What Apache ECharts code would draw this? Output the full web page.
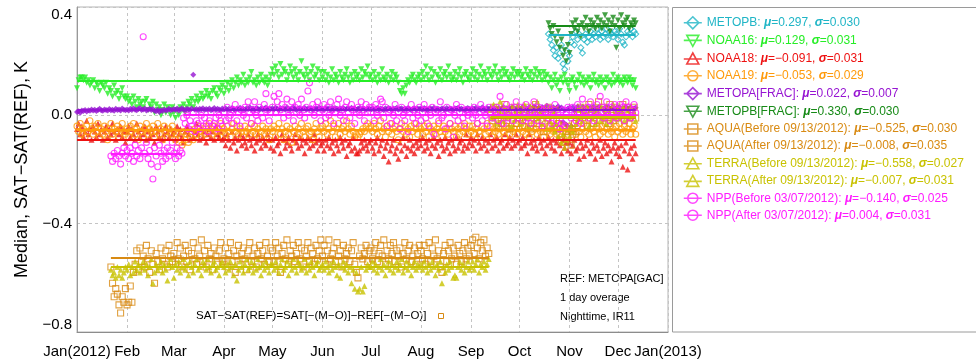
<!DOCTYPE html>
<html>
<head>
<meta charset="utf-8">
<script src="https://cdn.jsdelivr.net/npm/echarts@6/dist/echarts.min.js"></script>
<style>
  html, body { margin: 0; background: #fff; }
  #chart { width: 976px; height: 362px; }
</style>
</head>
<body>
<div id="chart"></div>
<script>
// month tick labels (Jan gets the year appended)
const monthLabels = ["Jan", "Feb", "Mar", "Apr", "May", "Jun", "Jul", "Aug", "Sep", "Oct", "Nov", "Dec"];
const yTicks = [-0.8, -0.4, 0.0, 0.4];

// series names, legend stats and first day (day 0 = 2012-01-01)
const names = [
  "METOPB", "NOAA16", "NOAA18", "NOAA19", "METOPA[FRAC]", "METOPB[FRAC]",
  "AQUA(Before 09/13/2012)", "AQUA(After 09/13/2012)",
  "TERRA(Before 09/13/2012)", "TERRA(After 09/13/2012)",
  "NPP(Before 03/07/2012)", "NPP(After 03/07/2012)"
];
const mus    = [0.297, 0.129, -0.091, -0.053, 0.022, 0.330, -0.525, -0.008, -0.558, -0.007, -0.140, 0.004];
const sigmas = [0.030, 0.031, 0.031, 0.029, 0.007, 0.030, 0.030, 0.035, 0.027, 0.031, 0.025, 0.031];
const startDays = [292, 0, 0, 0, 0, 292, 21, 256, 21, 256, 21, 66];

// daily medians, one row per month
const metopb = [
  .30,.28,.26,.24,.22,.25,.21,.23,.26,.19, .17,.24,.20,.22,.27,.29,.26,.31,.28,.30,
  .25,.23,.28,.30,.27,.29,.31,.28,.30,.29, .32,.30,.28,.31,.29,.30,.32,.28,.31,.30,
  .29,.31,.30,.28,.32,.30,.27,.26,.29,.31, .30,.32,.29,.31,.30
];
const noaa16 = [
  .10,.13,.14,.14,.13,.14,.12,.13,.11,.12, .13,.10,.12,.11,.09,.12,.11,.10,.12,.08, .10,.09,.07,.11,.08,.09,.06,.08,.10,.07, .06,
  .07,.05,.06,.04,.07,.05,.03,.06,.04,.05, .03,.05,.06,.02,.04,.03,.05,.01,.04,.02, .03,.00,.02,.04,.01,.03,.02,.00,.03,
  .01,-.01,.02,.00,.03,.02,.04,.01,.03,.05, .04,.06,.03,.05,.07,.05,.06,.08,.06,.07, .09,.07,.08,.06,.09,.10,.08,.07,.10,.09, .11,
  .08,.10,.12,.09,.11,.13,.10,.12,.14,.11, .13,.12,.15,.11,.13,.12,.14,.16,.12,.13, .11,.14,.12,.15,.13,.12,.14,.11,.13,.15,
  .17,.15,.18,.16,.14,.19,.15,.17,.16,.13, .15,.18,.16,.14,.17,.15,.13,.16,.20,.15, .14,.17,.15,.13,.16,.18,.14,.15,.17,.13, .16,
  .14,.16,.13,.15,.12,.14,.17,.13,.15,.14, .12,.16,.14,.13,.15,.17,.14,.12,.15,.13, .16,.14,.15,.13,.17,.14,.16,.15,.18,.14,
  .15,.13,.16,.14,.12,.15,.13,.17,.14,.13, .15,.12,.14,.16,.13,.15,.14,.12,.09,.08, .10,.08,.11,.13,.12,.14,.15,.13,.12,.14, .15,
  .13,.16,.14,.18,.15,.13,.17,.14,.16,.12, .15,.14,.17,.13,.15,.16,.14,.18,.15,.13, .14,.16,.13,.15,.17,.14,.12,.15,.16,.14, .13,
  .15,.17,.14,.16,.13,.15,.18,.14,.16,.15, .13,.17,.15,.14,.16,.18,.15,.13,.16,.14, .17,.15,.16,.14,.13,.15,.17,.14,.16,.15,
  .16,.14,.15,.13,.17,.15,.14,.16,.13,.15, .17,.14,.16,.15,.13,.16,.14,.15,.12,.14, .10,.13,.15,.11,.13,.09,.14,.12,.15,.13, .11,
  .09,.13,.14,.12,.10,.13,.15,.12,.14,.11, .13,.12,.14,.10,.13,.15,.12,.13,.11,.14, .12,.13,.10,.14,.12,.13,.11,.15,.12,.13,
  .14,.12,.13,.11,.14,.13,.12,.14,.13,.11, .13,.10
];
const noaa18 = [
  -.05,-.03,-.07,-.04,-.08,-.06,-.02,-.07,-.05,-.09, -.04,-.06,-.08,-.03,-.07,-.05,-.09,-.06,-.04,-.08, -.05,-.07,-.03,-.06,-.09,-.05,-.07,-.04,-.08,-.06, -.10,
  -.06,-.04,-.08,-.05,-.07,-.09,-.03,-.06,-.08,-.05, -.07,-.04,-.09,-.06,-.08,-.05,-.07,-.10,-.04,-.06, -.08,-.05,-.09,-.07,-.04,-.06,-.08,-.05,-.07,
  -.06,-.09,-.04,-.07,-.05,-.08,-.10,-.06,-.04,-.07, -.09,-.05,-.08,-.06,-.03,-.07,-.09,-.05,-.08,-.06, -.10,-.07,-.05,-.08,-.06,-.09,-.04,-.07,-.08,-.06, -.09,
  -.08,-.11,-.07,-.09,-.12,-.06,-.10,-.08,-.13,-.09, -.07,-.11,-.08,-.10,-.12,-.07,-.09,-.11,-.08,-.13, -.10,-.07,-.09,-.12,-.08,-.10,-.11,-.07,-.09,-.12,
  -.09,-.13,-.08,-.11,-.10,-.14,-.07,-.09,-.12,-.10, -.08,-.11,-.13,-.09,-.07,-.10,-.12,-.08,-.11,-.09, -.14,-.10,-.08,-.12,-.09,-.11,-.07,-.10,-.13,-.09, -.11,
  -.10,-.13,-.09,-.11,-.08,-.12,-.10,-.14,-.09,-.11, -.13,-.08,-.10,-.12,-.09,-.15,-.11,-.10,-.13,-.08, -.12,-.14,-.14,-.13,-.10,-.12,-.09,-.11,-.13,-.10,
  -.09,-.12,-.14,-.10,-.08,-.13,-.11,-.09,-.15,-.12, -.10,-.17,-.13,-.11,-.09,-.14,-.12,-.16,-.10,-.13, -.08,-.11,-.15,-.12,-.09,-.13,-.11,-.14,-.10,-.12, -.09,
  -.11,-.08,-.13,-.10,-.12,-.09,-.14,-.11,-.08,-.12, -.10,-.15,-.09,-.11,-.13,-.08,-.12,-.10,-.14,-.09, -.11,-.13,-.08,-.12,-.10,-.09,-.13,-.11,-.07,-.12, -.10,
  -.08,-.11,-.09,-.13,-.07,-.10,-.12,-.08,-.11,-.09, -.13,-.10,-.07,-.12,-.09,-.11,-.08,-.13,-.10,-.09, -.12,-.07,-.11,-.10,-.08,-.12,-.09,-.11,-.07,-.10,
  -.09,-.12,-.08,-.11,-.10,-.14,-.07,-.10,-.12,-.09, -.11,-.13,-.08,-.10,-.12,-.09,-.14,-.11,-.08,-.10, -.12,-.09,-.13,-.10,-.08,-.11,-.14,-.09,-.12,-.10, -.13,
  -.10,-.14,-.11,-.09,-.13,-.12,-.16,-.10,-.12,-.15, -.11,-.09,-.13,-.14,-.10,-.12,-.16,-.11,-.13,-.09, -.15,-.12,-.10,-.14,-.11,-.13,-.17,-.12,-.10,-.14,
  -.12,-.15,-.11,-.19,-.13,-.10,-.20,-.14,-.12,-.16, -.11,-.14
];
const noaa19 = [
  -.04,-.06,-.03,-.07,-.05,-.08,-.04,-.06,-.02,-.05, -.07,-.04,-.06,-.03,-.08,-.05,-.07,-.04,-.06,-.09, -.05,-.03,-.07,-.05,-.06,-.04,-.08,-.05,-.03,-.06, -.07,
  -.05,-.08,-.04,-.06,-.03,-.07,-.05,-.09,-.04,-.06, -.08,-.05,-.03,-.07,-.05,-.06,-.04,-.08,-.06,-.03, -.07,-.05,-.09,-.04,-.06,-.08,-.05,-.07,-.04,
  -.06,-.09,-.07,-.10,-.08,-.11,-.06,-.09,-.07,-.10, -.08,-.06,-.09,-.05,-.07,-.04,-.06,-.08,-.05,-.07, -.04,-.06,-.03,-.05,-.07,-.04,-.06,-.08,-.05,-.03, -.06,
  -.05,-.07,-.04,-.06,-.08,-.05,-.03,-.06,-.04,-.07, -.05,-.06,-.08,-.04,-.06,-.05,-.07,-.03,-.06,-.04, -.07,-.05,-.08,-.06,-.04,-.07,-.05,-.06,-.09,-.05,
  -.06,-.04,-.08,-.05,-.03,-.07,-.05,-.09,-.06,-.04, -.07,-.05,-.10,-.06,-.04,-.08,-.05,-.07,-.03,-.06, -.08,-.05,-.04,-.07,-.06,-.09,-.05,-.03,-.06,-.08, -.05,
  -.04,-.06,-.03,-.07,-.05,-.02,-.06,-.04,-.08,-.05, -.03,-.07,-.05,-.04,-.06,-.02,-.05,-.07,-.04,-.06, -.08,-.07,-.08,-.07,-.06,-.05,-.06,-.04,-.03,-.05,
  -.04,-.06,-.03,-.05,-.07,-.04,-.02,-.06,-.05,-.08, -.04,-.06,-.03,-.07,-.05,-.04,-.06,-.09,-.05,-.03, -.06,-.04,-.07,-.05,-.08,-.04,-.06,-.03,-.05,-.07, -.04,
  -.05,-.07,-.04,-.06,-.03,-.08,-.05,-.06,-.04,-.07, -.05,-.03,-.06,-.08,-.04,-.06,-.05,-.07,-.03,-.05, -.06,-.04,-.08,-.05,-.07,-.04,-.06,-.03,-.05,-.07, -.04,
  -.06,-.04,-.07,-.05,-.03,-.06,-.08,-.04,-.05,-.07, -.03,-.06,-.04,-.08,-.05,-.06,-.04,-.07,-.05,-.03, -.06,-.08,-.04,-.05,-.07,-.04,-.06,-.05,-.03,-.07,
  -.05,-.03,-.06,-.04,-.07,-.05,-.08,-.04,-.06,-.03, -.05,-.07,-.04,-.06,-.05,-.08,-.03,-.06,-.04,-.07, -.05,-.06,-.04,-.07,-.03,-.05,-.08,-.06,-.04,-.05, -.07,
  -.04,-.06,-.05,-.03,-.07,-.04,-.06,-.08,-.05,-.03, -.06,-.04,-.07,-.05,-.03,-.06,-.08,-.04,-.05,-.07, -.04,-.06,-.03,-.05,-.07,-.04,-.06,-.05,-.08,-.04,
  -.06,-.03,-.05,-.07,-.04,-.06,-.05,-.03,-.07,-.05, -.04,-.07
];
const metopaFrac = [
  .012,.015,.010,.018,.016,.020,.014,.019,.017,.022, .018,.021,.016,.020,.024,.019,.017,.022,.020,.018, .023,.019,.021,.017,.024,.020,.022,.018,.025,.021, .019,
  .022,.018,.024,.020,.026,.021,.019,.023,.027,.020, .022,.025,.018,.021,.024,.020,.023,.017,.015,.021, .012,.019,.016,.022,.018,.020,.024,.019,.021,
  .023,.020,.025,.018,.022,.026,.021,.019,.024,.022, .020,.025,.150,.021,.023,.019,.024,.022,.026,.020, .023,.021,.025,.019,.022,.027,.020,.024,.022,.018, .025,
  .022,.026,.020,.024,.021,.027,.023,.019,.025,.022, .028,.021,.024,.020,.026,.023,.030,.022,.025,.021, .027,.024,.020,.026,.022,.025,.029,.021,.024,.023,
  .026,.022,.028,.024,.020,.027,.023,.025,.021,.029, .024,.022,.026,.030,.023,.020,.025,.027,.022,.024, .028,.021,.025,.023,.027,.020,.024,.026,.022,.029, .023,
  .024,.021,.027,.023,.025,.020,.028,.022,.026,.024, .019,.025,.023,.027,.021,.024,.026,.022,.028,.023, .025,.020,.024,.027,.022,.026,.023,.021,.025,.024,
  .022,.026,.020,.024,.028,.021,.025,.023,.019,.026, .022,.027,.024,.020,.025,.023,.028,.021,.024,.026, .020,.025,.022,.027,.023,.019,.024,.026,.021,.025, .023,
  .025,.021,.027,.023,.019,.024,.026,.022,.028,.020, .025,.023,.021,.026,.024,.019,.027,.022,.025,.023, .020,.026,.024,.028,.021,.025,.022,.019,.024,.027, .023,
  .021,.026,.023,.028,.020,.025,.022,.030,.024,.019, .027,.023,.026,.021,.029,.024,.022,.027,.020,.025, .031,.023,.026,.021,.028,.024,.030,.022,.025,.027,
  .026,.021,.032,.024,.028,.019,.030,.025,.022,.033, .027,.023,.029,.020,.031,.026,.024,.035,.022,.028, .025,.030,.021,.027,.034,.023,.029,-.025,.020,-.035, .025,
  .028,-.040,.030,.018,.022,.033,.026,.019,.031,.027, .024,.031,.021,.028,.025,.033,.022,.027,.030,.024, .026,.021,.029,.025,.032,.023,.027,.030,.024,.028,
  .026,.030,.023,.028,.025,.031,.022,.027,.029,.024, .026,.028
];
const metopbFrac = [
  .34,.32,.30,.33,.29,.27,.31,.25,.28,.22, .24,.20,.26,.23,.30,.34,.32,.35,.31,.33,
  .29,.34,.32,.36,.33,.31,.35,.33,.34,.32, .36,.33,.35,.32,.34,.37,.33,.35,.31,.34,
  .36,.33,.25,.35,.32,.37,.34,.33,.35,.36, .32,.34,.33,.35,.34
];
const aquaBefore = [
  -.56,-.62,-.67,-.64,-.66,-.70,-.73,-.67,-.69,-.64,
  -.70,-.69,-.63,-.69,-.58,-.55,-.50,-.57,-.49,-.54,
  -.52,-.56,-.48,-.53,-.58,-.50,-.55,-.62,-.51,-.54,
  -.57,-.49,-.53,-.55,-.50,-.56,-.48,-.52,-.54,
  -.51,-.55,-.47,-.53,-.49,-.56,-.52,-.48,-.54,-.50, -.57,-.51,-.47,-.53,-.55,-.49,-.52,-.46,-.54,-.50, -.56,-.48,-.53,-.51,-.57,-.49,-.52,-.55,-.50,-.47, -.54,
  -.53,-.49,-.56,-.51,-.47,-.54,-.50,-.58,-.52,-.48, -.55,-.51,-.49,-.53,-.57,-.50,-.47,-.54,-.52,-.49, -.56,-.51,-.48,-.53,-.50,-.55,-.47,-.52,-.54,-.49,
  -.50,-.54,-.47,-.52,-.49,-.58,-.51,-.48,-.53,-.46, -.55,-.50,-.52,-.48,-.54,-.51,-.47,-.53,-.49,-.56, -.50,-.52,-.47,-.54,-.49,-.51,-.55,-.48,-.53,-.50, -.46,
  -.52,-.48,-.55,-.50,-.46,-.53,-.51,-.49,-.54,-.47, -.52,-.50,-.56,-.48,-.53,-.51,-.49,-.54,-.50,-.47, -.55,-.58,-.60,-.52,-.49,-.53,-.51,-.48,-.54,-.50,
  -.49,-.53,-.50,-.47,-.54,-.51,-.48,-.52,-.46,-.55, -.50,-.53,-.48,-.51,-.47,-.54,-.50,-.52,-.49,-.56, -.51,-.47,-.53,-.50,-.48,-.54,-.52,-.49,-.55,-.51, -.48,
  -.50,-.53,-.48,-.55,-.51,-.47,-.54,-.49,-.52,-.46, -.53,-.50,-.56,-.58,-.51,-.48,-.54,-.50,-.47,-.53, -.49,-.52,-.55,-.48,-.51,-.54,-.50,-.47,-.53,-.49, -.52,
  -.48,-.46,-.51,-.45,-.49,-.53,-.47,-.50,-.46,-.52, -.49,-.51
];
const aquaAfter = [
  .01,-.02,.03,-.01,.00,-.04,.02,-.03,.01,.04, -.02,.00,-.05,.02,-.01,.03,-.03,.00,
  -.01,.02,-.04,.01,-.02,.03,.00,-.05,.02,-.01, .04,-.03,.00,.02,-.02,-.06,.01,-.01,.03,-.04, .00,-.02,.02,-.05,-.03,-.07,-.09,-.04,-.10,-.06, -.08,
  -.05,-.11,-.07,-.03,-.06,.01,-.02,.03,-.01,.00, .02,-.04,.04,-.01,.01,-.03,.02,.00,.05,-.02, .01,.03,-.01,.02,-.03,.04,.00,-.02,.03,.01,
  -.01,.02,.00,.04,-.02,.01,.03,-.01,.02,.00, .03,-.01
];
const terraBefore = [
  -.57,-.59,-.58,-.60,-.56,-.59,-.57,-.60,-.58,-.56,
  -.57,-.55,-.59,-.56,-.58,-.54,-.57,-.55,-.58,-.56,
  -.54,-.57,-.55,-.59,-.56,-.53,-.62,-.58,-.55,-.57,
  -.56,-.54,-.58,-.55,-.57,-.61,-.55,-.53,-.56,
  -.60,-.55,-.57,-.54,-.58,-.56,-.53,-.57,-.55,-.59, -.54,-.56,-.58,-.55,-.53,-.57,-.56,-.59,-.54,-.55, -.57,-.53,-.56,-.58,-.55,-.54,-.57,-.56,-.59,-.55, -.54,
  -.56,-.58,-.55,-.57,-.54,-.56,-.59,-.55,-.61,-.57, -.54,-.56,-.58,-.55,-.53,-.57,-.56,-.54,-.58,-.55, -.57,-.53,-.56,-.59,-.55,-.57,-.54,-.56,-.58,-.55,
  -.55,-.57,-.54,-.56,-.58,-.55,-.53,-.57,-.56,-.54, -.59,-.55,-.57,-.53,-.56,-.58,-.54,-.55,-.57,-.56, -.53,-.58,-.55,-.57,-.54,-.56,-.59,-.55,-.54,-.57, -.56,
  -.55,-.57,-.54,-.56,-.58,-.55,-.57,-.54,-.56,-.59, -.55,-.60,-.56,-.54,-.57,-.55,-.58,-.56,-.62,-.57, -.64,-.58,-.65,-.64,-.56,-.65,-.63,-.57,-.55,-.56,
  -.56,-.54,-.57,-.55,-.58,-.56,-.53,-.57,-.55,-.59, -.56,-.54,-.57,-.55,-.58,-.56,-.54,-.57,-.55,-.53, -.58,-.56,-.54,-.57,-.55,-.59,-.56,-.54,-.57,-.55, -.56,
  -.55,-.57,-.54,-.56,-.58,-.55,-.57,-.54,-.56,-.59, -.55,-.57,-.54,-.62,-.56,-.58,-.55,-.57,-.54,-.56, -.60,-.59,-.60,-.56,-.54,-.57,-.55,-.58,-.56,-.54, -.57,
  -.56,-.54,-.57,-.55,-.53,-.58,-.55,-.56,-.54,-.57, -.55,-.53
];
const terraAfter = [
  .02,-.01,.04,.00,-.03,.02,.05,-.02,.01,.03, -.01,.02,.00,-.04,.03,-.02,.01,.04,
  .00,-.03,.02,.04,-.01,.01,-.04,.03,.00,-.02, .02,.05,-.01,.01,-.03,.02,.00,-.05,.03,-.02, -.04,.01,-.06,-.03,-.08,-.05,-.10,-.07,-.12,-.09, -.05,
  -.08,-.04,-.06,.00,-.03,.02,-.01,.03,-.02,.01, .00,.03,-.04,.02,-.01,.01,-.03,.02,.00,-.02, .03,-.01,.01,-.03,.02,.00,-.02,.04,-.01,.01,
  .02,-.01,.01,.03,-.02,.00,.02,-.01,.03,.00, .01,-.02
];
const nppBefore = [
  -.15,-.17,-.14,-.16,-.13,-.15,-.18,-.14,-.12,-.15,
  -.13,-.16,-.12,-.14,-.17,-.11,-.15,-.13,-.16,-.12,
  .29,-.14,-.10,-.16,-.13,-.18,-.235,-.12,-.15,-.19,
  -.11,-.14,-.17,-.13,-.16,-.12,-.15,-.13,-.10,-.14,
  -.16,-.12,-.15,-.13,-.14
];
const nppAfter = [
  -.01,-.03,.00,-.05,-.02,-.04,.01,-.06,-.02,-.03, -.05,.00,-.04,-.01,-.03,-.06,-.02,.01,-.04,-.03, -.01,-.05,.00,-.02,-.04,
  .01,-.02,.03,-.01,.00,-.03,.02,.04,-.02,.01, -.04,.02,.00,.03,-.01,.05,.01,-.03,.02,.05, .00,-.02,.03,.01,-.01,.04,.08,.02,-.02,.01,
  .03,.07,.01,.05,.08,.02,.04,-.01,.03,.06, .00,.02,.05,-.02,.03,.01,.04,.00,.06,.02, -.01,.03,.09,.12,.02,.04,.00,.03,.05,.01, -.02,
  .02,.04,-.01,.03,.00,.05,.02,-.03,.01,.04, .06,.00,.02,-.02,.03,.05,.01,-.01,.04,.02, -.03,.01,.03,.00,.05,.02,-.02,.04,.01,.03,
  .01,.03,-.02,.04,.00,.02,.06,.05,-.01,.03, -.04,.01,.02,-.03,.00,.04,-.02,.01,-.05,.03, .00,-.02,.02,-.06,.01,.04,-.01,.02,-.03,.00, .03,
  -.02,.01,.04,-.01,.02,-.04,.00,.03,-.07,.01, .02,-.02,.05,-.01,.00,-.05,.03,.01,-.03,.02, -.08,.00,.04,-.02,.01,.03,-.01,-.04,.02,.00, .01,
  .02,-.01,.03,.00,-.03,.01,.04,-.02,.02,.00, -.04,.03,.01,-.01,.02,.00,.03,-.02,.07,.01, -.03,.02,.04,-.01,.00,.03,-.02,.01,.05,-.01,
  .01,.03,-.02,.00,.04,-.01,.02,-.03,.01,.05, .00,-.02,.03,.01,-.04,.02,.00,.03,-.01,.02, -.03,.01,.04,-.02,.00,-.05,-.03,.02,-.04,.01, .03,
  .02,-.01,.03,.00,-.02,.04,.01,-.03,.06,.02, .00,.03,-.01,.05,.02,-.02,.01,.04,.00,.07, .03,-.01,.02,.05,.00,-.02,.03,.01,.04,-.01,
  .02,.04,.00,.03,-.02,.05,.01,.03,-.01,.02, .04,.01
];
const seriesValues = [metopb, noaa16, noaa18, noaa19, metopaFrac, metopbFrac,
  aquaBefore, aquaAfter, terraBefore, terraAfter, nppBefore, nppAfter];

// styles
const FONT = "Liberation Sans, Arial, sans-serif";
const ICON = {
  diamond: "path://M0,7L18,7M9,1L15,7L9,13L3,7Z",
  down: "path://M0,7L18,7M3,2L15,2L9,13Z",
  up: "path://M0,7L18,7M9,1L15,12L3,12Z",
  circle: "path://M0,7L18,7M4,7A5,5,0,1,1,14,7A5,5,0,1,1,4,7Z",
  square: "path://M0,7L18,7M4,2L14,2L14,12L4,12Z"
};
const styles = [
  { color: "#1fb5c6", symbol: "diamond", open: true, icon: ICON.diamond },
  { color: "#26ee26", symbol: "triangle", rotate: 180, icon: ICON.down },
  { color: "#ee1111", symbol: "triangle", icon: ICON.up },
  { color: "#ff9a0a", symbol: "circle", open: true, icon: ICON.circle },
  { color: "#9614d2", symbol: "diamond", icon: ICON.diamond },
  { color: "#178a17", symbol: "triangle", rotate: 180, icon: ICON.down },
  { color: "#d88a12", symbol: "rect", open: true, icon: ICON.square },
  { color: "#d88a12", symbol: "rect", open: true, icon: ICON.square },
  { color: "#c8c200", symbol: "triangle", icon: ICON.up },
  { color: "#c8c200", symbol: "triangle", icon: ICON.up },
  { color: "#ff1aff", symbol: "circle", open: true, icon: ICON.circle },
  { color: "#ff1aff", symbol: "circle", open: true, icon: ICON.circle }
];

const dayTs = (d) => new Date(2012, 0, 1 + d).getTime();
const minus = (s) => String(s).replace("-", "\u2212");

const series = names.map((name, i) => {
  const st = styles[i];
  const vals = seriesValues[i];
  const s0 = startDays[i];
  return {
    name,
    type: "scatter",
    symbol: st.symbol,
    symbolRotate: st.rotate || 0,
    symbolSize: 6,
    itemStyle: st.open
      ? { color: "rgba(0,0,0,0)", borderColor: st.color, borderWidth: 1.1 }
      : { color: st.color },
    emphasis: { disabled: true },
    data: vals.map((v, k) => [dayTs(s0 + k), v]),
    markLine: {
      silent: true,
      symbol: "none",
      label: { show: false },
      lineStyle: { color: st.color, type: "solid", width: 1.8 },
      data: [[{ coord: [dayTs(s0), mus[i]] }, { coord: [dayTs(s0 + vals.length - 1), mus[i]] }]]
    }
  };
});

const chart = echarts.init(document.getElementById("chart"));
chart.setOption({
  animation: false,
  backgroundColor: "#fff",
  grid: { left: 77, right: 308, top: 7, bottom: 30, show: true, borderColor: "#b4b4b4", borderWidth: 1 },
  xAxis: {
    type: "time",
    min: dayTs(0),
    max: dayTs(366),
    splitNumber: 12,
    minInterval: 28 * 86400000,
    maxInterval: 31 * 86400000,
    axisLine: { onZero: false, lineStyle: { color: "#8c8c8c" } },
    axisTick: { show: false },
    axisLabel: {
      color: "#000",
      fontFamily: FONT,
      fontSize: 15,
      margin: 12,
      showMinLabel: true,
      showMaxLabel: true,
      hideOverlap: false,
      formatter: (val) => {
        const d = new Date(val);
        const m = d.getMonth();
        return m === 0 ? monthLabels[0] + "(" + d.getFullYear() + ")" : monthLabels[m];
      }
    },
    splitLine: { show: true, lineStyle: { color: "#c4c4c4", type: [3, 3] } }
  },
  yAxis: {
    type: "value",
    min: yTicks[0],
    max: yTicks[yTicks.length - 1],
    interval: 0.4,
    name: "Median, SAT\u2212SAT(REF), K",
    nameLocation: "middle",
    nameGap: 44,
    nameTextStyle: { fontFamily: FONT, fontSize: 18, color: "#000" },
    axisLine: { show: true, onZero: false, lineStyle: { color: "#999" } },
    axisTick: { show: false },
    axisLabel: {
      color: "#000",
      fontFamily: FONT,
      fontSize: 15,
      margin: 5,
      verticalAlignMaxLabel: "top",
      verticalAlignMinLabel: "bottom",
      formatter: (v) => minus(v.toFixed(1))
    },
    splitLine: { show: true, lineStyle: { color: "#c4c4c4", type: [3, 3] } }
  },
  legend: {
    orient: "vertical",
    left: 683,
    top: 16,
    itemWidth: 18,
    itemHeight: 14,
    itemGap: 5,
    selectedMode: false,
    padding: 0,
    textStyle: {
      fontFamily: FONT,
      fontSize: 12,
      rich: { g: { fontFamily: FONT, fontSize: 12, fontWeight: "bold", fontStyle: "italic" } }
    },
    formatter: (name) => {
      const i = names.indexOf(name);
      return name + ": {g|\u03bc}=" + minus(mus[i].toFixed(3)) + ", {g|\u03c3}=" + sigmas[i].toFixed(3);
    },
    data: names.map((name, i) => ({
      name,
      icon: styles[i].icon,
      itemStyle: { color: "rgba(0,0,0,0)", borderColor: styles[i].color, borderWidth: 1.6 },
      textStyle: { color: styles[i].color }
    }))
  },
  graphic: [
    { type: "rect", silent: true, shape: { x: 672.5, y: 7.5, width: 330, height: 324.5 },
      style: { fill: "none", stroke: "#9a9a9a", lineWidth: 1 } },
    { type: "text", silent: true, x: 560, y: 279,
      style: { text: "REF: METOPA[GAC]", font: "11px " + FONT, fill: "#000", verticalAlign: "middle" } },
    { type: "text", silent: true, x: 560, y: 298,
      style: { text: "1 day overage", font: "11px " + FONT, fill: "#000", verticalAlign: "middle" } },
    { type: "text", silent: true, x: 560, y: 317,
      style: { text: "Nighttime, IR11", font: "11px " + FONT, fill: "#000", verticalAlign: "middle" } },
    { type: "text", silent: true, x: 196, y: 316,
      style: { text: "SAT\u2212SAT(REF)=SAT[\u2212(M\u2212O)]\u2212REF[\u2212(M\u2212O)]", font: "11.5px " + FONT, fill: "#000", verticalAlign: "middle" } },
    { type: "rect", silent: true, shape: { x: 438.5, y: 313.5, width: 5, height: 5 },
      style: { fill: "none", stroke: "#d88a12", lineWidth: 1 } }
  ],
  series
});
</script>
</body>
</html>
